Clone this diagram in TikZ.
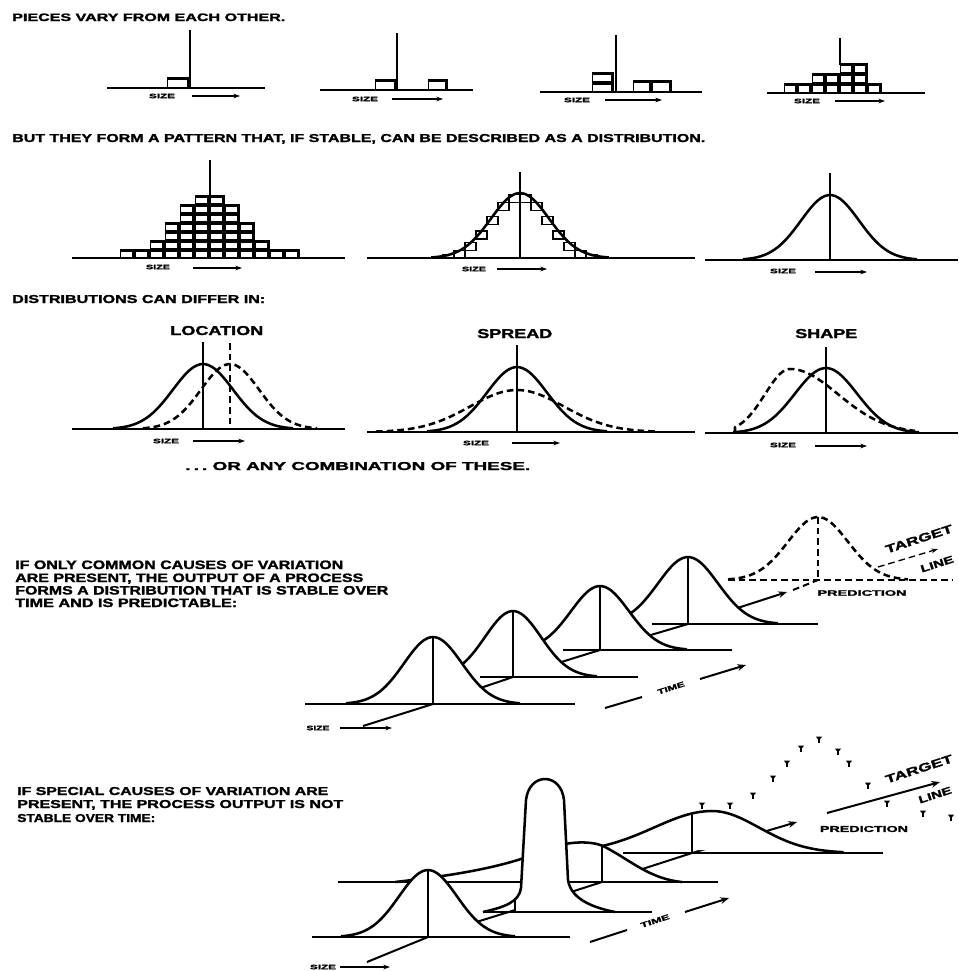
\documentclass[tikz,border=0pt]{standalone}
\usepackage{fontspec}
\usepackage{graphicx}
\usetikzlibrary{arrows.meta}
\newfontfamily\lblfont{Liberation Sans}[BoldFeatures={FakeBold=1.6}]
\newdimen\pxu \pxu=0.75pt
\newcommand\tx[3]{\resizebox{#1\pxu}{#2\pxu}{\lblfont\bfseries #3}}
\newcommand\cell[4]{%
  \fill ({#1},{#2}) rectangle ({#1+#3},{#2-#4});
  \fill[white] ({#1+1.3},{#2-1.2}) rectangle ({#1+#3-3},{#2-#4+2.8});}
\newcommand\bellfill[5]{\fill[white] plot[domain=-#5:#5,samples=50,smooth] ({#1+#2*\x},{#4-#3*exp(-0.5*\x*\x)}) -- cycle;}
\newcommand\belldraw[6][]{\draw[curve,#1] plot[domain=-#6:#6,samples=50,smooth] ({#2+#3*\x},{#5-#4*exp(-0.5*\x*\x)});}
\newcommand\tack[2]{\fill ({#1-3.2},{#2-2.5}) -- ({#1+3.2},{#2-2.5}) -- ({#1},{#2+1.5}) -- cycle; \draw[line width=0.9pt] ({#1},{#2}) -- ({#1},{#2+4});}
\tikzset{
  curve/.style={line width=1.9pt, line join=round},
  vline/.style={line width=2pt},
  baseln/.style={line width=1.6pt},
  axisln/.style={line width=1.5pt},
  dsh/.style={dash pattern=on 5pt off 3pt},
  arr/.style={line width=1pt, -{Stealth[length=5pt,width=3.5pt]}},
  axarr/.style={line width=1.5pt, -{Stealth[length=6.5pt,width=5pt]}},
  txt/.style={inner sep=0pt, anchor=base west},
  lab/.style={inner sep=0pt}
}
\begin{document}
\begin{tikzpicture}[x=0.75pt,y=-0.75pt]
\useasboundingbox (0,0) rectangle (958,971);
\fill[white] (0,0) rectangle (958,971);

% ---------------- Section 1
\node[txt] (t1) at (12,21) {\tx{273}{7.5}{PIECES VARY FROM EACH OTHER.}};
% panel 1
\draw[baseln] (107,88) -- (265,88);
\cell{167}{88}{23}{11}
\draw[vline] (190,30) -- (190,88);
\node[lab] (s1) at (162,96) {\tx{26}{4.5}{SIZE}};
\draw[arr] (192,96) -- (240,96);
% panel 2
\draw[baseln] (320,90) -- (473,90);
\cell{375}{90}{22}{11}
\cell{428}{90}{20}{11}
\draw[vline] (397,33) -- (397,90);
\node[lab] (s2) at (365,99) {\tx{26}{4.5}{SIZE}};
\draw[arr] (392,99) -- (443,99);
% panel 3
\draw[baseln] (540,92) -- (702,92);
\cell{592}{92}{22}{10}
\cell{592}{82}{22}{10}
\cell{633}{92}{19}{12}
\cell{652}{92}{20}{12}
\draw[vline] (616,35) -- (616,92);
\node[lab] (s3) at (577,100) {\tx{26}{4.5}{SIZE}};
\draw[arr] (605,100) -- (662,100);
% panel 4
\draw[baseln] (767,93) -- (925,93);
\draw[vline] (840,38) -- (840,65);
\foreach \i/\n in {0/1,1/1,2/2,3/2,4/3,5/3,6/1}{
  \foreach \k in {1,...,\n}{
    \pgfmathsetmacro\xa{784+14*\i}
    \pgfmathsetmacro\ya{93-10*(\k-1)}
    \cell{\xa}{\ya}{14}{10}
  }
}
\node[lab] (s4) at (807,101) {\tx{26}{4.5}{SIZE}};
\draw[arr] (835,101) -- (885,101);

% ---------------- Section 2
\node[txt] (t2) at (12,142) {\tx{693}{8}{BUT THEY FORM A PATTERN THAT, IF STABLE, CAN BE DESCRIBED AS A DISTRIBUTION.}};
% panel A
\draw[baseln] (72,258) -- (345,258);
\draw[vline] (210,160) -- (210,200);
\foreach \i/\n in {0/1,1/1,2/2,3/4,4/6,5/7,6/7,7/6,8/4,9/2,10/1,11/1}{
  \foreach \k in {1,...,\n}{
    \pgfmathsetmacro\xa{120+15*\i}
    \pgfmathsetmacro\ya{258-9*(\k-1)}
    \cell{\xa}{\ya}{15}{9}
  }
}
\node[lab] (s5) at (158,267) {\tx{24}{4.5}{SIZE}};
\draw[arr] (193,268) -- (242,268);
% panel B
\draw[baseln] (367,258) -- (695,258);
\foreach \i in {0,...,15}{
  \pgfmathsetmacro\xa{432+11*\i}
  \pgfmathsetmacro\tq{(\xa+5.5-520)/29}
  \pgfmathsetmacro\ya{258-65*exp(-0.5*\tq*\tq)}
  \pgfmathsetmacro\yb{min(\ya+8,258)}
  \draw[line width=0.9pt] (\xa,\ya) rectangle ({\xa+11},\yb);
}
\belldraw{520}{29}{65}{258}{3}
\draw[vline] (520,172) -- (520,258);
\node[lab] (s6) at (474,269) {\tx{24}{4.5}{SIZE}};
\draw[arr] (497,269) -- (547,269);
% panel C
\draw[baseln] (705,260) -- (958,260);
\belldraw{830}{29}{65}{260}{3}
\draw[vline] (830,173) -- (830,260);
\node[lab] (s7) at (783,271) {\tx{26}{4.5}{SIZE}};
\draw[arr] (815,272) -- (867,272);

% ---------------- Section 3
\node[txt] (t3) at (12,303) {\tx{253}{8}{DISTRIBUTIONS CAN DIFFER IN:}};
% location
\node[txt] (loc) at (170,335) {\tx{93}{9}{LOCATION}};
\draw[baseln] (72,429) -- (345,429);
\belldraw{203}{30}{65}{429}{3}
\belldraw[dsh]{230}{29}{65}{429}{3}
\draw[vline] (203,342) -- (203,429);
\draw[vline,dsh] (230,343) -- (230,429);
\node[lab] (s8) at (166,441) {\tx{26}{4.5}{SIZE}};
\draw[arr] (193,441) -- (245,441);
% spread
\node[txt] (spr) at (477,338) {\tx{75}{9}{SPREAD}};
\draw[baseln] (367,432) -- (695,432);
\belldraw{517}{30}{65}{432}{3}
\belldraw[dsh]{517}{47}{42}{432}{3}
\draw[vline] (517,345) -- (517,432);
\node[lab] (s9) at (476,443) {\tx{26}{4.5}{SIZE}};
\draw[arr] (512,443) -- (560,443);
% shape
\node[txt] (shp) at (795,338) {\tx{62}{9}{SHAPE}};
\draw[baseln] (705,433) -- (958,433);
\belldraw{826}{31}{65}{433}{3}
\draw[curve,dsh] (735,433) -- plot[domain=-2.2:0,samples=30,smooth] ({790+25*\x},{433-64*exp(-0.5*\x*\x)})
   -- plot[domain=0:2.6,samples=30,smooth] ({790+48*\x},{433-64*exp(-0.5*\x*\x)});
\draw[vline] (826,347) -- (826,433);
\node[lab] (s10) at (783,445) {\tx{26}{4.5}{SIZE}};
\draw[arr] (815,446) -- (867,446);
\node[txt] (comb) at (185,470) {\tx{345}{8}{.\,.\,.\ OR ANY COMBINATION OF THESE.}};

% ---------------- Section 4
\node[txt] (c1) at (15,569) {\tx{328}{8.5}{IF ONLY COMMON CAUSES OF VARIATION}};
\node[txt] (c2) at (15,582) {\tx{348}{8.5}{ARE PRESENT, THE OUTPUT OF A PROCESS}};
\node[txt] (c3) at (15,594.5) {\tx{373}{8.5}{FORMS A DISTRIBUTION THAT IS STABLE OVER}};
\node[txt] (c4) at (15,607) {\tx{222}{8.5}{TIME AND IS PREDICTABLE:}};
% prediction (dashed)
\belldraw[dsh]{818}{30}{63}{580}{3}
\draw[baseln,dsh] (728,580) -- (953,580);
\draw[vline,dsh] (818,517) -- (818,580);
\draw[arr,dsh] (878,567) -- (938,549);
\node[lab,rotate=18] (tg1) at (919,539) {\tx{70}{8}{TARGET}};
\node[lab,rotate=18] (ln1) at (937,564) {\tx{34}{7}{LINE}};
\node[lab] (pr1) at (862,593) {\tx{89}{5.5}{PREDICTION}};
\draw[axisln,dsh] (793,590) -- (818,580);
\draw[axarr] (688,624) -- (787,592);
% curve 4
\bellfill{688}{30}{67}{624}{3}
\draw[baseln] (652,624) -- (818,624);
\belldraw{688}{30}{67}{624}{3}
\draw[vline] (688,557) -- (688,624);
\draw[axisln] (600,650) -- (688,624);
% curve 3
\bellfill{600}{29}{64}{650}{3}
\draw[baseln] (563,650) -- (732,650);
\belldraw{600}{29}{64}{650}{3}
\draw[vline] (600,586) -- (600,650);
\draw[axisln] (513,677) -- (600,650);
% curve 2
\bellfill{513}{28}{66}{677}{3}
\draw[baseln] (480,677) -- (638,677);
\belldraw{513}{28}{66}{677}{3}
\draw[vline] (513,611) -- (513,677);
\draw[axisln] (433,704) -- (513,677);
% curve 1
\bellfill{433}{29}{67}{704}{3}
\draw[baseln] (305,704) -- (575,704);
\belldraw{433}{29}{67}{704}{3}
\draw[vline] (433,637) -- (433,704);
\draw[axisln] (363,726) -- (433,704);
% time
\draw[axisln] (605,708) -- (642,697);
\node[lab,rotate=18] (tm1) at (671,688) {\tx{28}{5}{TIME}};
\draw[axarr] (700,679) -- (746,665);
\node[lab] (s11) at (318,728) {\tx{23}{4.5}{SIZE}};
\draw[arr] (340,728) -- (392,728);

% ---------------- Section 5
\node[txt] (d1) at (17,795) {\tx{311}{8}{IF SPECIAL CAUSES OF VARIATION ARE}};
\node[txt] (d2) at (17,808) {\tx{326}{8}{PRESENT, THE PROCESS OUTPUT IS NOT}};
\node[txt] (d3) at (17,822) {\tx{138}{8}{STABLE OVER TIME:}};
\foreach \p/\q in {702/805,730/805,753/795,773/778,787/763,801/748,819/739,838/751,849/763,868/785,887/803,923/813,951/817}{
  \tack{\p}{\q}
}
\draw[axarr] (827,813) -- (940,782);
\node[lab,rotate=18] (tg2) at (919,769) {\tx{70}{8}{TARGET}};
\node[lab,rotate=18] (ln2) at (935,795) {\tx{34}{7}{LINE}};
\node[lab] (pr2) at (864,829) {\tx{88}{6}{PREDICTION}};
\draw[axarr] (692,853) -- (797,822);
% curve 4 (back)
\fill[white] plot[domain=-2.1:0,samples=30,smooth] ({712+58*\x},{853-42*exp(-0.5*\x*\x)})
   -- plot[domain=0:2.8,samples=30,smooth] ({712+47*\x},{853-42*exp(-0.5*\x*\x)}) -- cycle;
\draw[baseln] (623,853) -- (883,853);
\draw[curve] plot[domain=-2.1:0,samples=30,smooth] ({712+58*\x},{853-42*exp(-0.5*\x*\x)})
   -- plot[domain=0:2.8,samples=30,smooth] ({712+47*\x},{853-42*exp(-0.5*\x*\x)});
\draw[vline] (692,814) -- (692,853);
\draw[axisln] (602,882) -- (692,853);
% curve 3 (wide, flat)
\fill[white] (395,882) .. controls (440,877) and (500,869) .. (540,852)
   .. controls (560,842) and (590,839) .. (605,847)
   .. controls (630,860) and (650,879) .. (682,882) -- cycle;
\draw[baseln] (338,882) -- (718,882);
\draw[curve] (395,882) .. controls (440,877) and (500,869) .. (540,852)
   .. controls (560,842) and (590,839) .. (605,847)
   .. controls (630,860) and (650,879) .. (682,882);
\draw[vline] (602,846) -- (602,882);
\draw[axisln] (515,910) -- (602,882);
% curve 2 (tall spike)
\fill[white] (483,912) .. controls (505,907) and (519,902) .. (521,888) -- (526,800)
   .. controls (529,772) and (561,772) .. (564,800) -- (568,880)
   .. controls (571,900) and (595,908) .. (615,912) -- cycle;
\draw[baseln] (483,912) -- (652,912);
\draw[curve] (483,912) .. controls (505,907) and (519,902) .. (521,888) -- (526,800)
   .. controls (529,772) and (561,772) .. (564,800) -- (568,880)
   .. controls (571,900) and (595,908) .. (615,912);
\draw[vline] (515,898) -- (515,912);
\draw[axisln] (428,937) -- (515,910);
% curve 1 (front)
\bellfill{428}{29}{67}{937}{3}
\draw[baseln] (312,937) -- (570,937);
\belldraw{428}{29}{67}{937}{3}
\draw[vline] (428,870) -- (428,937);
\draw[axisln] (367,962) -- (428,937);
% time
\draw[axisln] (590,942) -- (627,930);
\node[lab,rotate=18] (tm2) at (655,921) {\tx{30}{5}{TIME}};
\draw[axarr] (685,912) -- (729,898);
\node[lab] (s12) at (323,967) {\tx{26}{4.5}{SIZE}};
\draw[arr] (340,967) -- (390,967);
\end{tikzpicture}
\end{document}
